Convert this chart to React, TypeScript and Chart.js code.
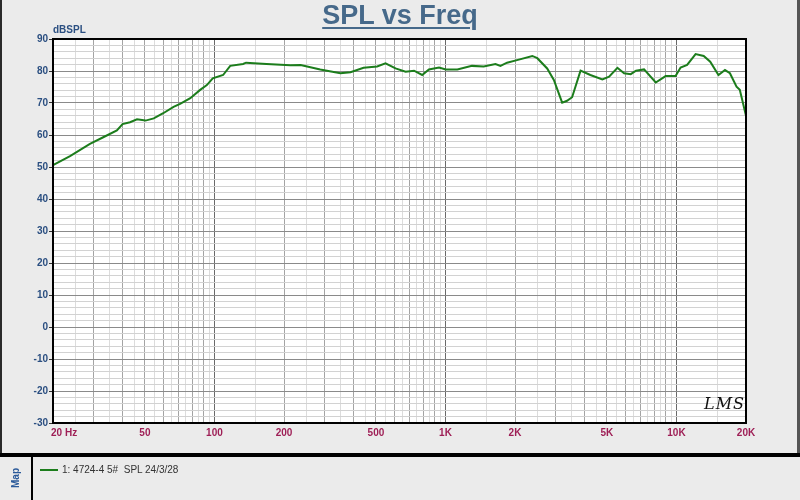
import React, { useEffect, useRef } from "react";
import { Chart, registerables } from "chart.js";

Chart.register(...registerables);

// SPL curve (Hz / dB)
const freqHz = [
  20, 23.7, 28.9, 33, 37.8, 40, 43.1, 46.2, 50.3, 54.6, 60, 66.5, 71, 78.6,
  86.7, 92.7, 98.3, 109, 117, 133, 137, 168, 213, 236, 287, 351, 388, 442, 506,
  550, 608, 672, 731, 793, 848, 938, 1003, 1126, 1302, 1464, 1646, 1730, 1848,
  2040, 2376, 2498, 2756, 2946, 3200, 3360, 3534, 3844, 4240, 4778, 5110, 5552,
  5934, 6340, 6680, 7240, 8134, 8980, 9912, 10420, 11120, 12100, 13120, 14000,
  15200, 16220, 17040, 18200, 18800, 20000,
];
const splDb = [
  50.6, 53.4, 57.2, 59.3, 61.4, 63.4, 64.0, 64.9, 64.5, 65.2, 66.8, 68.8, 69.7,
  71.5, 74.1, 75.6, 77.7, 78.75, 81.6, 82.2, 82.6, 82.2, 81.8, 81.9, 80.5, 79.3,
  79.6, 81.0, 81.4, 82.4, 80.8, 79.8, 80.1, 78.75, 80.5, 81.1, 80.5, 80.5, 81.6,
  81.4, 82.2, 81.6, 82.6, 83.4, 84.7, 84.0, 80.8, 77.2, 70.1, 70.7, 71.8, 80.1,
  78.75, 77.4, 78.2, 81.0, 79.3, 79.0, 80.1, 80.5, 76.4, 78.4, 78.4, 81.1, 81.9,
  85.3, 84.7, 82.9, 78.75, 80.3, 79.3, 75.1, 74.1, 66.0,
];

const xTickValues = [20, 50, 100, 200, 500, 1000, 2000, 5000, 10000, 20000];
const xTickLabels = ["        20 Hz", "50", "100", "200", "500", "1K", "2K", "5K", "10K", "20K"];
const yTickValues = [-30, -20, -10, 0, 10, 20, 30, 40, 50, 60, 70, 80, 90];

const seriesLabel = "1: 4724-4 5#  SPL 24/3/28";

const FONT = '"Liberation Sans", Arial, sans-serif';

// vertical grid: every half step inside each decade
const gridFreqs: number[] = [];
for (const dec of [10, 100, 1000, 10000]) {
  for (let m = 1; m < 10; m += 0.5) {
    const v = Math.round(m * dec);
    if (v >= 20 && v <= 20000 && !gridFreqs.includes(v)) gridFreqs.push(v);
  }
}

const gridDb: number[] = [];
for (let v = -30; v <= 90; v += 2) gridDb.push(v);

function freqGridColor(v: number) {
  const lg = Math.log10(v);
  if (Math.abs(lg - Math.round(lg)) < 1e-6) return "#6a6a6a";
  const m = v / Math.pow(10, Math.floor(lg + 1e-9));
  if (Math.abs(m - Math.round(m)) < 1e-6) return "#a4a4a4";
  return "#dcdcdc";
}

const framePlugin = {
  id: "frame",
  beforeDraw: (chart: Chart) => {
    const { ctx, chartArea: a } = chart;
    ctx.save();
    ctx.fillStyle = "#ffffff";
    ctx.fillRect(a.left, a.top, a.right - a.left, a.bottom - a.top);
    ctx.restore();
  },
  afterDraw: (chart: Chart) => {
    const { ctx, chartArea: a } = chart;
    ctx.save();
    ctx.strokeStyle = "#000000";
    ctx.lineWidth = 2;
    ctx.strokeRect(a.left, a.top, a.right - a.left, a.bottom - a.top);
    ctx.restore();
  },
};

export default function App() {
  const canvasRef = useRef<HTMLCanvasElement | null>(null);

  useEffect(() => {
    const ctx = canvasRef.current?.getContext("2d");
    if (!ctx) return;

    const chart = new Chart(ctx, {
      type: "line",
      data: {
        datasets: [
          {
            label: seriesLabel,
            data: freqHz.map((f, i) => ({ x: f, y: splDb[i] })),
            borderColor: "#1c7d1c",
            borderWidth: 2,
            pointRadius: 0,
            tension: 0,
            fill: false,
          },
        ],
      },
      options: {
        animation: false,
        responsive: false,
        devicePixelRatio: 1,
        layout: { padding: { top: 39, right: 54, left: 0, bottom: 0 } },
        plugins: {
          legend: { display: false },
          tooltip: { enabled: false },
        },
        scales: {
          x: {
            type: "logarithmic",
            min: 20,
            max: 20000,
            afterBuildTicks: (scale: any) => {
              scale.ticks = gridFreqs.map((v) => ({ value: v }));
            },
            afterFit: (scale: any) => {
              scale.height = 77;
            },
            grid: {
              color: (c: any) => freqGridColor(c.tick?.value ?? 20),
              lineWidth: 1,
              drawTicks: false,
              tickLength: 0,
            },
            border: { display: false },
            ticks: {
              autoSkip: false,
              maxRotation: 0,
              minRotation: 0,
              padding: 4,
              color: "#9e1f56",
              font: { family: FONT, size: 10, weight: "bold" },
              callback: (value: any) => {
                const i = xTickValues.indexOf(Number(value));
                return i >= 0 ? xTickLabels[i] : "";
              },
            },
          },
          y: {
            type: "linear",
            min: -30,
            max: 90,
            afterBuildTicks: (scale: any) => {
              scale.ticks = gridDb.map((v) => ({ value: v }));
            },
            afterFit: (scale: any) => {
              scale.width = 53;
            },
            grid: {
              color: (c: any) =>
                (c.tick?.value ?? 0) % 10 === 0 ? "#8a8a8a" : "#d2d2d2",
              lineWidth: 1,
              tickLength: 4,
              tickColor: (c: any) =>
                (c.tick?.value ?? 0) % 10 === 0 ? "#333333" : "rgba(0,0,0,0)",
            },
            border: { display: false },
            ticks: {
              autoSkip: false,
              padding: 1,
              color: "#2b4f81",
              font: { family: FONT, size: 10, weight: "bold" },
              callback: (value: any) =>
                yTickValues.includes(Number(value)) ? String(value) : "",
            },
          },
        },
      },
      plugins: [framePlugin],
    });

    return () => {
      chart.destroy();
    };
  }, []);

  const abs = (s: React.CSSProperties): React.CSSProperties => ({
    position: "absolute",
    ...s,
  });

  return (
    <div
      style={{
        position: "fixed",
        left: 0,
        top: 0,
        width: 800,
        height: 500,
        background: "#ebebeb",
        overflow: "hidden",
        fontFamily: FONT,
      }}
    >
      <canvas ref={canvasRef} width={800} height={500} style={abs({ left: 0, top: 0 })} />

      <div
        style={abs({
          left: 0,
          top: 2,
          width: 800,
          textAlign: "center",
          fontSize: 27,
          lineHeight: "27px",
          fontWeight: "bold",
          color: "#46698a",
          textDecoration: "underline",
          textDecorationThickness: 2,
          textUnderlineOffset: 3,
        })}
      >
        SPL vs Freq
      </div>

      <div
        style={abs({
          left: 53,
          top: 25,
          fontSize: 10,
          lineHeight: "10px",
          fontWeight: "bold",
          color: "#2b4f81",
        })}
      >
        dBSPL
      </div>

      <div
        style={abs({
          left: 704,
          top: 396,
          fontSize: 16,
          lineHeight: "16px",
          fontStyle: "italic",
          fontFamily: '"DejaVu Serif", serif',
          color: "#111",
          letterSpacing: 1,
        })}
      >
        LMS
      </div>

      {/* frame edges */}
      <div style={abs({ left: 0, top: 0, width: 2, height: 453, background: "#2a2a2a" })} />
      <div style={abs({ left: 797, top: 0, width: 3, height: 453, background: "#555" })} />
      <div style={abs({ left: 0, top: 453, width: 800, height: 4, background: "#000" })} />

      {/* bottom legend panel */}
      <div style={abs({ left: 31, top: 457, width: 2, height: 43, background: "#000" })} />
      <div
        style={abs({
          left: 1,
          top: 472,
          width: 30,
          textAlign: "center",
          fontSize: 10,
          lineHeight: "12px",
          fontWeight: "bold",
          color: "#2b5a9a",
          transform: "rotate(-90deg)",
        })}
      >
        Map
      </div>
      <div style={abs({ left: 40, top: 469, width: 18, height: 2, background: "#1c7d1c" })} />
      <div
        style={abs({
          left: 62,
          top: 464,
          fontSize: 10,
          lineHeight: "12px",
          color: "#333",
          whiteSpace: "pre",
        })}
      >
        {seriesLabel}
      </div>
    </div>
  );
}
